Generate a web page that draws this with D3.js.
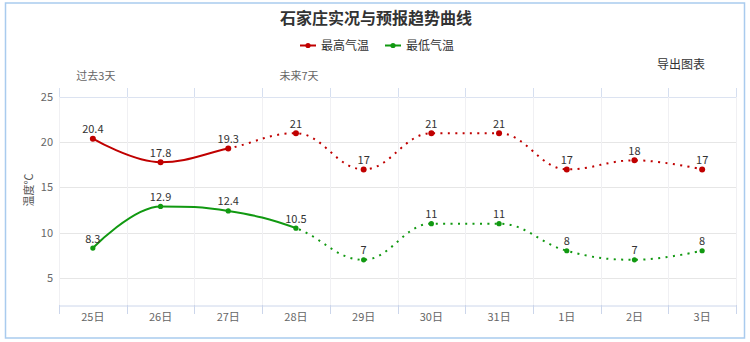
<!DOCTYPE html>
<html>
<head>
<meta charset="utf-8">
<script src="https://cdn.jsdelivr.net/npm/d3@7/dist/d3.min.js"></script>
<style>
  html, body { margin: 0; padding: 0; background: #fff; }
  svg { display: block; font-family: "Noto Sans CJK SC", "Noto Sans", sans-serif; }
</style>
</head>
<body>
<svg id="chart" width="750" height="342"></svg>
<script>
// Days shown on the x axis
const days = ["25日", "26日", "27日", "28日", "29日", "30日", "31日", "1日", "2日", "3日"];
// Daily maximum temperature (°C)
const highTemps = [20.4, 17.8, 19.3, 21, 17, 21, 21, 17, 18, 17];
// Daily minimum temperature (°C)
const lowTemps = [8.3, 12.9, 12.4, 10.5, 7, 11, 11, 8, 7, 8];
// Index of the last observed value for each series; later values are forecasts
const highObservedEnd = 2;
const lowObservedEnd = 3;
// Y axis ticks
const yTicks = [5, 10, 15, 20, 25];
// Top axis captions and the day each one sits over
const periodLabels = ["过去3天", "未来7天"];
const periodDays = ["25日", "28日"];

const svg = d3.select("#chart");

const plot = { left: 59, right: 736, top: 88, bottom: 305 };

const x = d3.scaleBand().domain(days).range([plot.left, plot.right]).padding(0);
const y = d3.scaleLinear().domain([2, 26]).range([plot.bottom, plot.top]);
const cx = d => x(d) + x.bandwidth() / 2;

// Spline with control points kept level at local extremes
function SmoothSpline(context) { this._context = context; }
SmoothSpline.prototype = {
  areaStart() {}, areaEnd() {},
  lineStart() { this._pts = []; },
  point(px, py) { this._pts.push([+px, +py]); },
  lineEnd() {
    const p = this._pts, n = p.length, ctx = this._context;
    if (!n) return;
    const smoothing = 1.5, denom = smoothing + 1;
    const ctrl = p.map(([px, py], i) => {
      if (i === 0 || i === n - 1) return { lx: px, ly: py, rx: px, ry: py };
      const [lx0, ly0] = p[i - 1], [nx0, ny0] = p[i + 1];
      const lx = (smoothing * px + lx0) / denom;
      let ly = (smoothing * py + ly0) / denom;
      const rx = (smoothing * px + nx0) / denom;
      let ry = (smoothing * py + ny0) / denom;
      let corr = 0;
      if (rx !== lx) corr = ((ry - ly) * (rx - px)) / (rx - lx) + py - ry;
      ly += corr; ry += corr;
      if (ly > ly0 && ly > py) { ly = Math.max(ly0, py); ry = 2 * py - ly; }
      else if (ly < ly0 && ly < py) { ly = Math.min(ly0, py); ry = 2 * py - ly; }
      if (ry > ny0 && ry > py) { ry = Math.max(ny0, py); ly = 2 * py - ry; }
      else if (ry < ny0 && ry < py) { ry = Math.min(ny0, py); ly = 2 * py - ry; }
      return { lx, ly, rx, ry };
    });
    ctx.moveTo(p[0][0], p[0][1]);
    for (let i = 1; i < n; i++) {
      ctx.bezierCurveTo(ctrl[i - 1].rx, ctrl[i - 1].ry, ctrl[i].lx, ctrl[i].ly, p[i][0], p[i][1]);
    }
  }
};
const curveSmooth = ctx => new SmoothSpline(ctx);

// Outer frame
svg.append("rect")
  .attr("x", 5.5).attr("y", 3).attr("width", 739).attr("height", 335)
  .attr("fill", "#fff").attr("stroke", "#a9cbee").attr("stroke-width", 1.5);

// Title
svg.append("text")
  .attr("x", 376).attr("y", 24)
  .attr("text-anchor", "middle")
  .attr("font-size", 16).attr("font-weight", "bold").attr("fill", "#333")
  .text("石家庄实况与预报趋势曲线");

// Legend
const legendItems = [
  { name: "最高气温", color: "#c00000", x: 300 },
  { name: "最低气温", color: "#119911", x: 385 }
];
const legend = svg.append("g");
legendItems.forEach(it => {
  const g = legend.append("g").attr("transform", `translate(${it.x},45.5)`);
  g.append("line").attr("x1", 0).attr("x2", 16).attr("stroke", it.color).attr("stroke-width", 2);
  g.append("circle").attr("cx", 8).attr("r", 2.6).attr("fill", it.color);
  g.append("text").attr("x", 21).attr("y", 4.2)
    .attr("font-size", 12).attr("fill", "#333").text(it.name);
});

// Export caption
svg.append("text")
  .attr("x", 657).attr("y", 69)
  .attr("font-size", 12).attr("fill", "#333")
  .text("导出图表");

// Horizontal grid lines
svg.append("g").selectAll("line").data(yTicks).join("line")
  .attr("x1", plot.left).attr("x2", plot.right)
  .attr("y1", d => Math.round(y(d)) + 0.5).attr("y2", d => Math.round(y(d)) + 0.5)
  .attr("stroke", d => d === 25 ? "#dce3f1" : "#e6e6e6").attr("stroke-width", 1);

// Vertical grid lines at day boundaries
const bounds = days.map(d => x(d)).concat([plot.right]);
svg.append("g").selectAll("line").data(bounds).join("line")
  .attr("x1", d => Math.round(d) + 0.5).attr("x2", d => Math.round(d) + 0.5)
  .attr("y1", plot.top).attr("y2", plot.bottom)
  .attr("stroke", "#f0f0f3").attr("stroke-width", 1);

// Top axis ticks
svg.append("g").selectAll("line").data(bounds).join("line")
  .attr("x1", d => Math.round(d) + 0.5).attr("x2", d => Math.round(d) + 0.5)
  .attr("y1", plot.top).attr("y2", y(25))
  .attr("stroke", "#d6dff0").attr("stroke-width", 1);

// Bottom axis
const xAxis = d3.axisBottom(x).tickSize(0).tickPadding(8);
const gx = svg.append("g").attr("transform", `translate(0,${plot.bottom + 0.5})`).call(xAxis);
gx.select(".domain").attr("stroke", "#ccd6eb");
gx.selectAll("text").attr("font-size", 11).attr("fill", "#666")
  .attr("font-family", "\"Noto Sans CJK SC\", sans-serif");
svg.append("g").selectAll("line").data(bounds).join("line")
  .attr("x1", d => Math.round(d) + 0.5).attr("x2", d => Math.round(d) + 0.5)
  .attr("y1", plot.bottom).attr("y2", plot.bottom + 9)
  .attr("stroke", "#ccd6eb").attr("stroke-width", 1);

// Top axis captions
svg.append("g").selectAll("text").data(periodLabels).join("text")
  .attr("x", (d, i) => cx(periodDays[i]) + 3).attr("y", 80)
  .attr("text-anchor", "middle")
  .attr("font-size", 11).attr("fill", "#666")
  .text(d => d);

// Left axis labels
const yAxis = d3.axisLeft(y).tickValues(yTicks).tickSize(0).tickPadding(6);
const gy = svg.append("g").attr("transform", `translate(${plot.left},0)`).call(yAxis);
gy.select(".domain").remove();
gy.selectAll("text").attr("font-size", 11).attr("fill", "#666")
  .attr("font-family", "\"Noto Sans CJK SC\", sans-serif");

// Y axis title
svg.append("text")
  .attr("transform", "translate(33,190) rotate(-90)")
  .attr("text-anchor", "middle")
  .attr("font-size", 11).attr("fill", "#555")
  .text("温度℃");

// Clip regions splitting observed and forecast portions
const defs = svg.append("defs");
function addClip(id, x0, x1) {
  defs.append("clipPath").attr("id", id).append("rect")
    .attr("x", x0).attr("y", 0).attr("width", x1 - x0).attr("height", 342);
}
addClip("high-obs", 0, cx(days[highObservedEnd]));
addClip("high-fc", cx(days[highObservedEnd]), 750);
addClip("low-obs", 0, cx(days[lowObservedEnd]));
addClip("low-fc", cx(days[lowObservedEnd]), 750);

const line = d3.line().x((d, i) => cx(days[i])).y(d => y(d)).curve(curveSmooth);

function drawSeries(values, color, key, markerR) {
  const g = svg.append("g");
  g.append("path").attr("d", line(values))
    .attr("fill", "none").attr("stroke", color).attr("stroke-width", 2)
    .attr("clip-path", `url(#${key}-obs)`);
  g.append("path").attr("d", line(values))
    .attr("fill", "none").attr("stroke", color).attr("stroke-width", 2)
    .attr("stroke-dasharray", "2,5.4")
    .attr("clip-path", `url(#${key}-fc)`);
  g.selectAll("circle").data(values).join("circle")
    .attr("cx", (d, i) => cx(days[i])).attr("cy", d => y(d))
    .attr("r", markerR).attr("fill", color);
  g.selectAll("text").data(values).join("text")
    .attr("x", (d, i) => cx(days[i])).attr("y", d => y(d) - 5.5)
    .attr("text-anchor", "middle")
    .attr("font-size", 11).attr("fill", "#333")
    .text(d => String(d));
}

drawSeries(highTemps, "#c00000", "high", 3);
drawSeries(lowTemps, "#119911", "low", 2.6);
</script>
</body>
</html>
